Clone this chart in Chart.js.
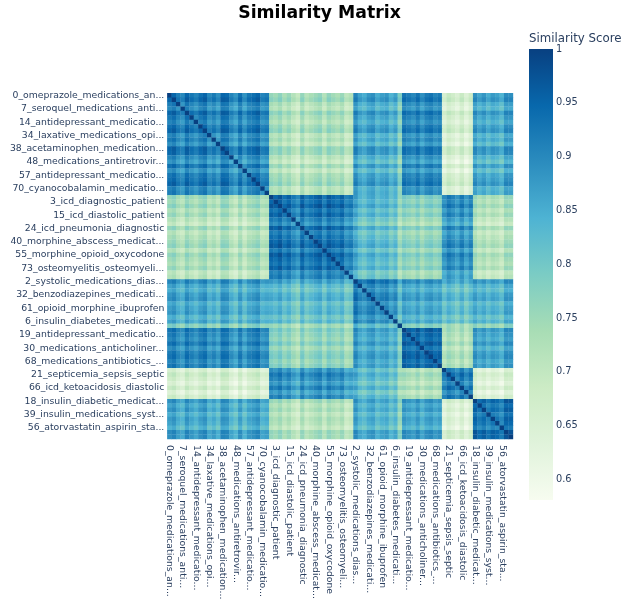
<!DOCTYPE html>
<html>
<head>
<meta charset="utf-8">
<script src="https://cdn.jsdelivr.net/npm/chart.js@4.4.1/dist/chart.umd.min.js"></script>
<style>
html,body{margin:0;padding:0;background:#fff;}
#wrap{position:relative;width:630px;height:609px;overflow:hidden;}
#main{position:absolute;left:0;top:0;}
#bar{position:absolute;left:524px;top:28px;}
</style>
</head>
<body>
<div id="wrap">
<canvas id="main" width="630" height="609"></canvas>
<canvas id="bar" width="106" height="482"></canvas>
</div>
<script>
// ---- data ----
const topicLabels = [
  "0_omeprazole_medications_an...", "1", "4",
  "7_seroquel_medications_anti...", "5", "8",
  "14_antidepressant_medicatio...", "9", "10",
  "34_laxative_medications_opi...", "11", "12",
  "38_acetaminophen_medication...", "13", "16",
  "48_medications_antiretrovir...", "17", "20",
  "57_antidepressant_medicatio...", "22", "23",
  "70_cyanocobalamin_medicatio...", "25", "26",
  "3_icd_diagnostic_patient", "27", "28",
  "15_icd_diastolic_patient", "29", "31",
  "24_icd_pneumonia_diagnostic", "33", "35",
  "40_morphine_abscess_medicat...", "36", "37",
  "55_morphine_opioid_oxycodone", "41", "42",
  "73_osteomyelitis_osteomyeli...", "43", "44",
  "2_systolic_medications_dias...", "45", "46",
  "32_benzodiazepines_medicati...", "47", "49",
  "61_opioid_morphine_ibuprofen", "50", "51",
  "6_insulin_diabetes_medicati...", "52", "53",
  "19_antidepressant_medicatio...", "54", "58",
  "30_medications_anticholiner...", "59", "60",
  "68_medications_antibiotics_...", "62", "63",
  "21_septicemia_sepsis_septic", "64", "65",
  "66_icd_ketoacidosis_diastolic", "67", "69",
  "18_insulin_diabetic_medicat...", "71", "72",
  "39_insulin_medications_syst...", "74", "75",
  "56_atorvastatin_aspirin_sta...", "76", "77"
];

// sizes of the six diagonal blocks, in display order
const clusterSizes = [23, 19, 11, 9, 7, 9];

// estimated mean similarity between blocks
const clusterMeans = [
  [0.905, 0.720, 0.850, 0.890, 0.660, 0.850],
  [0.720, 0.915, 0.815, 0.750, 0.885, 0.710],
  [0.850, 0.815, 0.890, 0.845, 0.820, 0.835],
  [0.890, 0.750, 0.845, 0.925, 0.720, 0.850],
  [0.660, 0.885, 0.820, 0.720, 0.920, 0.645],
  [0.850, 0.710, 0.835, 0.850, 0.645, 0.920]
];

// estimated per-topic stripe shift (darker / lighter rows and columns)
const topicShift = [
  0.015, 0.03, -0.005, -0.02, 0.03, 0.005, -0.015, 0.015, 0.03, -0.02, 0.00, -0.03,
  0.03, 0.025, -0.015, -0.04, 0.015, -0.035, 0.005, 0.015, 0.03, -0.015, -0.005,
  0.025, 0.01, 0.035, -0.005, 0.02, -0.015, -0.04, 0.025, -0.02, 0.00, 0.015,
  0.03, -0.015, 0.03, 0.01, -0.005, 0.02, -0.03, -0.015,
  0.04, 0.00, -0.015, 0.015, 0.025, -0.015, 0.005, 0.015, -0.025, 0.00, -0.08,
  0.025, 0.01, -0.005, 0.025, -0.015, 0.015, 0.025, 0.00, 0.015,
  -0.015, 0.02, 0.00, -0.025, 0.015, -0.03, 0.005,
  0.025, -0.005, 0.015, -0.015, 0.01, 0.00, -0.025, 0.03, 0.025
];

const scoreMin = 0.581;
const scoreMax = 1;
const colorTicks = [0.6, 0.65, 0.7, 0.75, 0.8, 0.85, 0.9, 0.95, 1];
const gnbu = [
  [247,252,240],[224,243,219],[204,235,197],[168,221,181],[123,204,196],
  [78,179,211],[43,140,190],[8,104,172],[8,64,129]
];

// ---- build matrix ----
const clusterOf = [];
clusterSizes.forEach((n, k) => { for (let i = 0; i < n; i++) clusterOf.push(k); });
const N = topicLabels.length;
const cells = [];
for (let r = 0; r < N; r++) {
  for (let c = 0; c < N; c++) {
    let v;
    if (r === c) v = 1;
    else {
      v = clusterMeans[clusterOf[r]][clusterOf[c]] + topicShift[r] + topicShift[c];
      v = Math.max(scoreMin, Math.min(0.99, v));
    }
    cells.push({x: topicLabels[c], y: topicLabels[r], v: v});
  }
}

function colorFor(v) {
  let t = (v - scoreMin) / (scoreMax - scoreMin);
  t = Math.max(0, Math.min(1, t));
  const p = t * (gnbu.length - 1);
  const i = Math.min(gnbu.length - 2, Math.floor(p));
  const f = p - i;
  const a = gnbu[i], b = gnbu[i + 1];
  return 'rgb(' + Math.round(a[0] + (b[0]-a[0])*f) + ',' + Math.round(a[1] + (b[1]-a[1])*f) + ',' + Math.round(a[2] + (b[2]-a[2])*f) + ')';
}

// category axis whose rotated labels read downward from the axis
class DownCategoryScale extends Chart.CategoryScale {
  _getXAxisLabelAlignment() { return 'left'; }
}
DownCategoryScale.id = 'categoryDown';
DownCategoryScale.defaults = Chart.CategoryScale.defaults;
Chart.register(DownCategoryScale);

const FONT = "'DejaVu Sans', Verdana, sans-serif";
const TICK_COLOR = '#2a3f5f';
const TICK_SIZE = 9.3;

function cellRadius(chart) {
  const xs = chart.scales.x;
  if (!xs) return 2;
  const cell = xs.width / N;
  return (cell / 2 + 0.18) * Math.SQRT2;
}

new Chart(document.getElementById('main'), {
  type: 'scatter',
  data: {
    labels: topicLabels,
    datasets: [{
      data: cells,
      pointStyle: 'rect',
      pointRadius: ctx => cellRadius(ctx.chart),
      pointHoverRadius: ctx => cellRadius(ctx.chart),
      pointBackgroundColor: ctx => colorFor(ctx.raw ? ctx.raw.v : 1),
      pointBorderWidth: 0,
      pointHoverBorderWidth: 0
    }]
  },
  options: {
    responsive: false,
    animation: false,
    events: [],
    layout: {padding: {left: 9, right: 0, top: 0, bottom: 0}},
    plugins: {
      legend: {display: false},
      tooltip: {enabled: false},
      title: {
        display: true,
        text: 'Similarity Matrix',
        color: '#000',
        font: {family: FONT, size: 17.3, weight: 'bold'},
        padding: {top: 3, bottom: 93.3 - 3 - 17.3 * 1.2}
      }
    },
    scales: {
      x: {
        type: 'categoryDown',
        labels: topicLabels,
        offset: true,
        grid: {display: false, drawTicks: false},
        border: {display: false},
        ticks: {
          autoSkip: false,
          minRotation: -90,
          maxRotation: -90,
          padding: 6,
          color: TICK_COLOR,
          font: {family: FONT, size: TICK_SIZE},
          callback: (v, i) => (i % 3 === 0 ? topicLabels[i] : '')
        },
        afterFit: s => { s.height = 170; }
      },
      y: {
        type: 'category',
        labels: topicLabels,
        offset: true,
        grid: {display: false, drawTicks: false},
        border: {display: false},
        ticks: {
          autoSkip: false,
          padding: 3,
          color: TICK_COLOR,
          font: {family: FONT, size: TICK_SIZE},
          callback: (v, i) => (i % 3 === 0 ? topicLabels[i] : '')
        },
        afterFit: s => { s.width = 158.3; }
      },
      side: {
        type: 'linear',
        position: 'right',
        display: true,
        grid: {display: false, drawTicks: false},
        border: {display: false},
        ticks: {display: false},
        afterFit: s => { s.width = 117; }
      }
    }
  }
});

// ---- colour bar ----
new Chart(document.getElementById('bar'), {
  type: 'bar',
  data: {
    labels: ['Similarity Score'],
    datasets: [{
      data: [[scoreMin, scoreMax]],
      barPercentage: 1,
      categoryPercentage: 1,
      borderWidth: 0,
      borderSkipped: false,
      backgroundColor: ctx => {
        const chart = ctx.chart;
        const ys = chart.scales.y;
        if (!ys || !chart.chartArea) return colorFor(0.8);
        const g = chart.ctx.createLinearGradient(0, ys.getPixelForValue(scoreMin), 0, ys.getPixelForValue(scoreMax));
        gnbu.forEach((c, i) => g.addColorStop(i / (gnbu.length - 1), 'rgb(' + c.join(',') + ')'));
        return g;
      }
    }]
  },
  options: {
    responsive: false,
    animation: false,
    events: [],
    layout: {padding: {left: 5, right: 0, top: 0, bottom: 10}},
    plugins: {
      legend: {display: false},
      tooltip: {enabled: false},
      title: {
        display: true,
        text: 'Similarity Score',
        align: 'start',
        color: TICK_COLOR,
        font: {family: FONT, size: 11.8, weight: 'normal'},
        padding: {top: 4, bottom: 21.1 - 4 - 11.8 * 1.2}
      }
    },
    scales: {
      x: {display: false},
      y: {
        position: 'right',
        min: scoreMin,
        max: scoreMax,
        grid: {display: false, drawTicks: false},
        border: {display: false},
        ticks: {
          padding: 3,
          color: TICK_COLOR,
          font: {family: FONT, size: 9.8},
          callback: v => String(+(+v).toFixed(2))
        },
        afterBuildTicks: s => { s.ticks = colorTicks.map(v => ({value: v})); },
        afterFit: s => { s.width = 77; }
      }
    }
  }
});
</script>
</body>
</html>
